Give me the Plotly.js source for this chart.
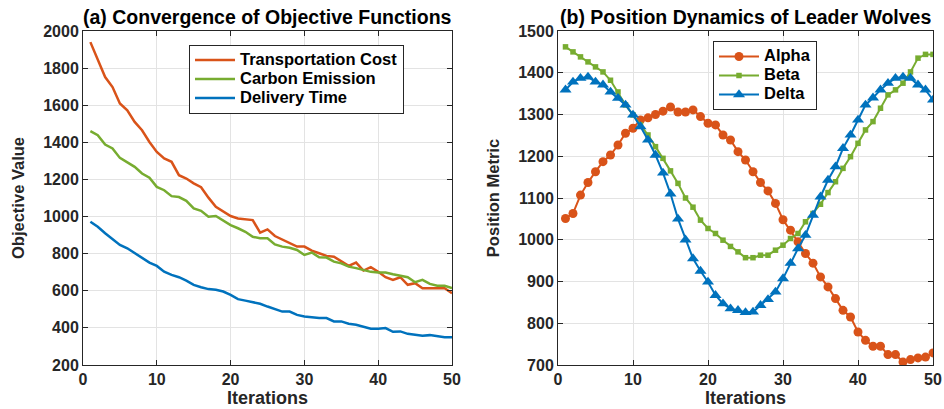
<!DOCTYPE html>
<html>
<head>
<meta charset="utf-8">
<script src="https://cdn.plot.ly/plotly-3.0.1.min.js"></script>
<style>html,body{margin:0;padding:0;background:#fff;}#chart{width:944px;height:409px;}</style>
</head>
<body>
<div id="chart"></div>
<script>
// Iterations
const iterations = Array.from({length: 50}, (_, i) => i + 1);

// (a) Convergence of Objective Functions
const transportationCost = [1940, 1850, 1752, 1698, 1609, 1573, 1510, 1465, 1402, 1348,
  1313, 1295, 1223, 1205, 1179, 1158, 1102, 1053, 1026, 1003,
  990, 985, 981, 913, 931, 895, 877, 856, 838, 838,
  816, 802, 788, 784, 757, 734, 752, 709, 727, 703,
  673, 659, 673, 632, 641, 614, 614, 614, 614, 587];
const carbonEmission = [1460, 1438, 1388, 1367, 1316, 1291, 1268, 1232, 1209, 1160,
  1142, 1110, 1105, 1085, 1044, 1031, 999, 1003, 977, 954,
  937, 918, 891, 883, 883, 850, 838, 832, 820, 793,
  806, 781, 779, 757, 748, 730, 722, 712, 702, 698,
  698, 689, 680, 673, 646, 659, 637, 627, 627, 614];
const deliveryTime = [972, 945, 910, 877, 847, 829, 802, 775, 752, 734,
  703, 686, 673, 655, 632, 619, 609, 605, 596, 578,
  555, 547, 537, 530, 515, 501, 488, 488, 470, 461,
  456, 453, 453, 435, 435, 422, 417, 408, 395, 395,
  399, 379, 381, 368, 363, 358, 361, 354, 349, 349];

// (b) Position Dynamics of Leader Wolves
const alpha = [1051, 1063, 1107, 1137, 1163, 1187, 1203, 1227, 1255, 1267,
  1287, 1292, 1300, 1308, 1318, 1306, 1306, 1311, 1295, 1279,
  1275, 1251, 1239, 1211, 1191, 1163, 1137, 1117, 1087, 1048,
  1023, 995, 967, 944, 911, 887, 859, 831, 815, 779,
  759, 745, 745, 725, 725, 707, 713, 717, 719, 729];
const beta = [1462, 1450, 1438, 1426, 1414, 1402, 1382, 1354, 1323, 1299,
  1275, 1251, 1223, 1195, 1165, 1135, 1100, 1078, 1047, 1027,
  1015, 999, 984, 971, 957, 957, 963, 963, 975, 987,
  1003, 1015, 1043, 1063, 1085, 1113, 1139, 1171, 1199, 1231,
  1263, 1283, 1315, 1347, 1359, 1375, 1402, 1435, 1444, 1444];
const delta = [1359, 1378, 1387, 1390, 1378, 1371, 1354, 1339, 1323, 1299,
  1271, 1239, 1203, 1160, 1110, 1050, 1000, 955, 925, 899,
  867, 847, 835, 831, 826, 827, 843, 857, 875, 907,
  944, 979, 1011, 1059, 1103, 1143, 1175, 1219, 1251, 1287,
  1323, 1340, 1359, 1375, 1387, 1390, 1387, 1371, 1359, 1335];

const leftTickVals = [200, 400, 600, 800, 1000, 1200, 1400, 1600, 1800, 2000];
const rightTickVals = [700, 800, 900, 1000, 1100, 1200, 1300, 1400, 1500];
const xTickVals = [0, 10, 20, 30, 40, 50];

const ORANGE = '#D95319', GREEN = '#77AC30', BLUE = '#0072BD';
const FONT = 'Liberation Sans, Arial, sans-serif';

function legendName(s) {
  return '<span style="font-size:16.5px">' + s + '</span>';
}

const traces = [
  {x: iterations, y: transportationCost, name: legendName('Transportation Cost'), type: 'scatter', mode: 'lines',
   line: {color: ORANGE, width: 2.5}, xaxis: 'x', yaxis: 'y', legend: 'legend'},
  {x: iterations, y: carbonEmission, name: legendName('Carbon Emission'), type: 'scatter', mode: 'lines',
   line: {color: GREEN, width: 2.5}, xaxis: 'x', yaxis: 'y', legend: 'legend'},
  {x: iterations, y: deliveryTime, name: legendName('Delivery Time'), type: 'scatter', mode: 'lines',
   line: {color: BLUE, width: 2.5}, xaxis: 'x', yaxis: 'y', legend: 'legend'},
  {x: iterations, y: alpha, name: legendName('Alpha'), type: 'scatter', mode: 'lines+markers',
   line: {color: ORANGE, width: 2}, marker: {symbol: 'circle', size: 9, color: ORANGE},
   xaxis: 'x2', yaxis: 'y2', legend: 'legend2'},
  {x: iterations, y: beta, name: legendName('Beta'), type: 'scatter', mode: 'lines+markers',
   line: {color: GREEN, width: 2}, marker: {symbol: 'square', size: 5.5, color: GREEN},
   xaxis: 'x2', yaxis: 'y2', legend: 'legend2'},
  {x: iterations, y: delta, name: legendName('Delta'), type: 'scatter', mode: 'lines+markers',
   line: {color: BLUE, width: 2}, marker: {symbol: 'triangle-up', size: 10.5, color: BLUE},
   xaxis: 'x2', yaxis: 'y2', legend: 'legend2'}
];

function xAxis(domain, anchor) {
  return {
    domain: domain, anchor: anchor, range: [0, 50], tickvals: xTickVals,
    showgrid: true, gridcolor: '#e3e3e3', gridwidth: 1, zeroline: false,
    showline: true, linecolor: '#262626', linewidth: 1, mirror: 'ticks',
    ticks: 'inside', ticklen: 5, tickcolor: '#262626',
    tickfont: {family: FONT, size: 16, color: '#262626', weight: 'bold'},
    title: {text: 'Iterations', font: {family: FONT, size: 18, color: '#262626', weight: 'bold'}, standoff: 4}
  };
}
function yAxis(domain, anchor, range, tickvals, title) {
  return {
    domain: domain, anchor: anchor, range: range, tickvals: tickvals,
    showgrid: true, gridcolor: '#e3e3e3', gridwidth: 1, zeroline: false,
    showline: true, linecolor: '#262626', linewidth: 1, mirror: 'ticks',
    ticks: 'inside', ticklen: 5, tickcolor: '#262626',
    tickfont: {family: FONT, size: 16, color: '#262626', weight: 'bold'},
    title: {text: title, font: {family: FONT, size: 16.5, color: '#262626', weight: 'bold'}, standoff: 14}
  };
}

const yDom = [1 - 365 / 409, 1 - 31 / 409];
const legendCommon = {
  xanchor: 'left', yanchor: 'top',
  bgcolor: '#ffffff', bordercolor: '#262626', borderwidth: 1,
  font: {family: FONT, size: 12, color: '#000000', weight: 'bold'},
  tracegroupgap: 0, itemwidth: 40
};
const layout = {
  width: 944, height: 409,
  margin: {l: 0, r: 0, t: 0, b: 0},
  paper_bgcolor: '#ffffff', plot_bgcolor: '#ffffff',
  font: {family: FONT, color: '#262626'},
  showlegend: true,
  xaxis: xAxis([83 / 944, 452 / 944], 'y'),
  yaxis: yAxis(yDom, 'x', [200, 2000], leftTickVals, 'Objective Value'),
  xaxis2: xAxis([558 / 944, 933 / 944], 'y2'),
  yaxis2: yAxis(yDom, 'x2', [700, 1500], rightTickVals, 'Position Metric'),
  legend: Object.assign({x: 189 / 944, y: 1 - 44.5 / 409}, legendCommon),
  legend2: Object.assign({x: 713 / 944, y: 1 - 41 / 409}, legendCommon),
  annotations: [
    {text: '(a) Convergence of Objective Functions', xref: 'paper', yref: 'paper',
     x: 267 / 944, y: 1 - 17 / 409, xanchor: 'center', yanchor: 'middle', showarrow: false,
     font: {family: FONT, size: 19.5, color: '#000000', weight: 'bold'}},
    {text: '(b) Position Dynamics of Leader Wolves', xref: 'paper', yref: 'paper',
     x: 745 / 944, y: 1 - 17 / 409, xanchor: 'center', yanchor: 'middle', showarrow: false,
     font: {family: FONT, size: 19.5, color: '#000000', weight: 'bold'}}
  ]
};

Plotly.newPlot('chart', traces, layout, {displayModeBar: false, staticPlot: true});
</script>
</body>
</html>
